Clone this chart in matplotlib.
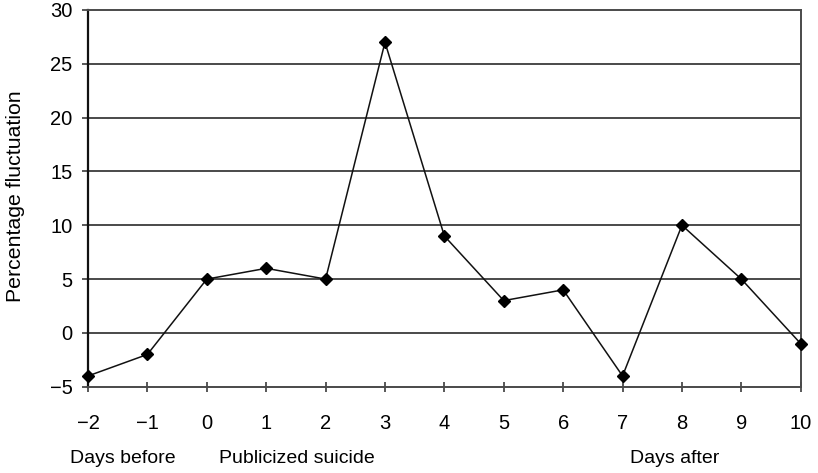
import matplotlib
matplotlib.use("Agg")
import matplotlib.pyplot as plt

plt.rcParams['font.family'] = ['Liberation Sans', 'DejaVu Sans']

days = [-2, -1, 0, 1, 2, 3, 4, 5, 6, 7, 8, 9, 10]
fluctuation = [-4, -2, 5, 6, 5, 27, 9, 3, 4, -4, 10, 5, -1]
y_ticks = [-5, 0, 5, 10, 15, 20, 25, 30]
period_labels = ["Days before", "Publicized suicide", "Days after"]
period_centers = [-1.41, 1.52, 7.88]

fig = plt.figure(figsize=(8.18, 4.73), dpi=100)
ax = fig.add_axes([0.1076, 0.1824, 0.8713, 0.7965])

ax.set_xlim(-2, 10)
ax.set_ylim(-5, 30)

grid_color = '#4a4a4a'
for y in y_ticks[1:-1]:
    ax.axhline(y, color=grid_color, lw=1.4, zorder=1)

ax.plot(days, fluctuation, color='#111111', lw=1.1, marker='D',
        markersize=6.4, markerfacecolor='black', markeredgecolor='black',
        clip_on=False, zorder=3)

ax.spines['left'].set_color('#111111')
ax.spines['left'].set_linewidth(1.6)
for side in ['top', 'right', 'bottom']:
    ax.spines[side].set_color(grid_color)
    ax.spines[side].set_linewidth(1.4)

ax.set_yticks(y_ticks)
ax.set_yticklabels([str(v).replace('-', '\u2212') for v in y_ticks])
ax.set_xticks(days)
ax.set_xticklabels([str(d).replace('-', '\u2212') for d in days])

ax.tick_params(axis='y', direction='out', length=4, width=1.3, color=grid_color,
               pad=7, labelsize=14.5)
ax.tick_params(axis='x', direction='inout', length=7, width=1.3, color=grid_color,
               pad=16, labelsize=14.5)

fig.text(16 / 818, 1 - 196 / 473, "Percentage fluctuation", rotation=90,
         ha='center', va='center', fontsize=15.3)

for label, xc in zip(period_labels, period_centers):
    ax.text(xc, -12.1, label, ha='center', va='baseline', fontsize=14)

fig.savefig("out.png", dpi=100)
